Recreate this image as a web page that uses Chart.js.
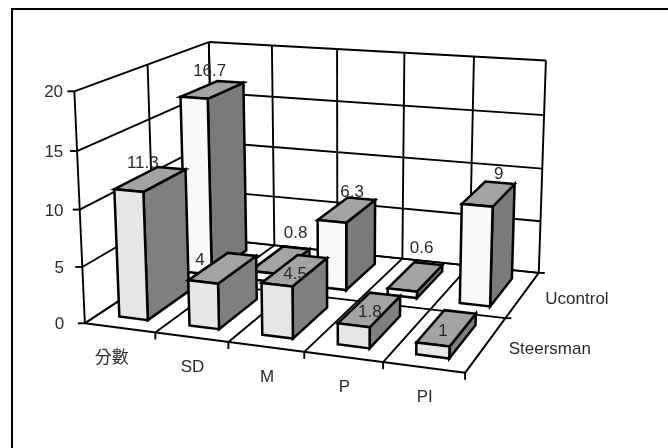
<!DOCTYPE html>
<html>
<head>
<meta charset="utf-8">
<style>
  html, body { margin: 0; padding: 0; background: #fff; }
  canvas { display: block; }
</style>
<script src="https://cdn.jsdelivr.net/npm/chart.js@4"></script>
</head>
<body>
<canvas id="chart" width="668" height="448"></canvas>
<script>
const categories = ['分數', 'SD', 'M', 'P', 'PI'];
const seriesNames = ['Steersman', 'Ucontrol'];
const steersman = [11.3, 4, 4.5, 1.8, 1];
const ucontrol = [16.7, 0.8, 6.3, 0.6, 9];

// Corners of the 3D box as seen in the picture: [u, v, w] -> [px, py]
// u = 0..5 along categories, v = 0..2 along series, w = 0..1 up the value axis
const calibration = [
    [0, 0, 0, 85, 323], [5, 0, 0, 465, 373], [5, 2, 0, 539, 273], [0, 2, 0, 213, 239],
    [0, 0, 1, 74, 91], [0, 2, 1, 209, 42], [5, 2, 1, 546, 61],
    [0, 0, 0.5, 80, 210], [5, 2, 0.5, 542, 168]
];

// Least squares fit of a projective camera, so the box keeps its perspective
function fitCamera(points) {
    const n = 11;
    const A = Array.from({ length: n }, () => new Array(n + 1).fill(0));
    const addRow = (row, rhs) => {
        for (let i = 0; i < n; i++) {
            for (let j = 0; j < n; j++) A[i][j] += row[i] * row[j];
            A[i][n] += row[i] * rhs;
        }
    };
    points.forEach(([u, v, w, px, py]) => {
        const x = px / 500, y = py / 500;
        addRow([u, v, w, 1, 0, 0, 0, 0, -x * u, -x * v, -x * w], x);
        addRow([0, 0, 0, 0, u, v, w, 1, -y * u, -y * v, -y * w], y);
    });
    for (let c = 0; c < n; c++) {
        let best = c;
        for (let r = c + 1; r < n; r++) if (Math.abs(A[r][c]) > Math.abs(A[best][c])) best = r;
        [A[c], A[best]] = [A[best], A[c]];
        for (let r = 0; r < n; r++) {
            if (r === c) continue;
            const f = A[r][c] / A[c][c];
            for (let k = c; k <= n; k++) A[r][k] -= f * A[c][k];
        }
    }
    return A.map((row, i) => row[n] / row[i]);
}

const cam = fitCamera(calibration);

function project(u, v, w) {
    const d = cam[8] * u + cam[9] * v + cam[10] * w + 1;
    return [
        500 * (cam[0] * u + cam[1] * v + cam[2] * w + cam[3]) / d,
        500 * (cam[4] * u + cam[5] * v + cam[6] * w + cam[7]) / d
    ];
}

const faceColors = {
    Steersman: { front: '#e6e6e6', top: '#a3a3a3', side: '#7f7f7f' },
    Ucontrol: { front: '#f8f8f8', top: '#a3a3a3', side: '#7a7a7a' }
};

// hand placed labels, the original chart had them dragged around
const labelShift = {
    Steersman: [[-8, -16], [-23, -7], [0, 4], [0, 3], [-4, 4]],
    Ucontrol: [[-3, -18], [15, -26], [5, -18], [6, -28], [10, -19]]
};
const categoryShift = [-8, 1, 1, 1, 1];

const barHalfU = 0.205;
const barHalfV = 0.31;

const box3d = {
    id: 'box3d',
    afterDatasetsDraw(chart) {
        const { ctx, scales, chartArea: area } = chart;
        const { x, y, depth } = scales;

        const uOf = i => (x.getPixelForValue(i) - area.left) / area.width * categories.length;
        const vOf = i => (area.bottom - depth.getPixelForValue(i)) / area.height * seriesNames.length;
        const wOf = val => (area.bottom - y.getPixelForValue(val)) / area.height;

        const line = (a, b) => {
            ctx.beginPath();
            ctx.moveTo(a[0], a[1]);
            ctx.lineTo(b[0], b[1]);
            ctx.stroke();
        };
        const face = (pts, fill) => {
            ctx.beginPath();
            pts.forEach((p, i) => i ? ctx.lineTo(p[0], p[1]) : ctx.moveTo(p[0], p[1]));
            ctx.closePath();
            ctx.fillStyle = fill;
            ctx.fill();
            ctx.stroke();
        };

        const nU = categories.length;
        const nV = seriesNames.length;

        ctx.save();
        ctx.strokeStyle = '#000';
        ctx.lineJoin = 'miter';

        // frame: only the top and left edges are inside the picture
        ctx.lineWidth = 2;
        line([11, 9], [668, 9]);
        line([12, 8], [12, 448]);

        // walls and floor
        ctx.lineWidth = 1.9;
        y.ticks.forEach(t => {
            const w = wOf(t.value);
            line(project(0, 0, w), project(0, nV, w));
            line(project(0, nV, w), project(nU, nV, w));
            const a = project(0, 0, w);
            line(a, [a[0] - 7, a[1]]);
        });
        for (let u = 0; u <= nU; u++) {
            line(project(u, nV, 0), project(u, nV, 1));
            line(project(u, 0, 0), project(u, nV, 0));
            const a = project(u, 0, 0);
            if (u > 0) line(a, [a[0], a[1] + 7]);
        }
        for (let v = 0; v <= nV; v++) {
            line(project(0, v, 0), project(nU, v, 0));
            const a = project(nU, v, 0);
            if (v > 0) line(a, [a[0] + 6, a[1]]);
            line(project(0, v, 0), project(0, v, 1));
        }

        // bars, back row first so the front row covers it
        ctx.lineWidth = 2.5;
        for (let s = nV - 1; s >= 0; s--) {
            const meta = chart.getDatasetMeta(s);
            const colors = faceColors[seriesNames[s]];
            const vc = vOf(s);
            meta.data.forEach((bar, i) => {
                const val = chart.data.datasets[s].data[i];
                const uc = uOf(i);
                const w = wOf(val);
                const u0 = uc - barHalfU, u1 = uc + barHalfU;
                const v0 = vc - barHalfV, v1 = vc + barHalfV;
                face([project(u1, v0, 0), project(u1, v1, 0), project(u1, v1, w), project(u1, v0, w)], colors.side);
                face([project(u0, v0, w), project(u1, v0, w), project(u1, v1, w), project(u0, v1, w)], colors.top);
                face([project(u0, v0, 0), project(u1, v0, 0), project(u1, v0, w), project(u0, v0, w)], colors.front);
            });
        }

        // value labels go over everything
        ctx.font = '17px "Liberation Sans", "Noto Sans CJK TC"';
        ctx.textAlign = 'center';
        ctx.textBaseline = 'middle';
        ctx.fillStyle = '#2a2a2a';
        for (let s = 0; s < nV; s++) {
            chart.data.datasets[s].data.forEach((val, i) => {
                const p = project(uOf(i), vOf(s), wOf(val));
                const shift = labelShift[seriesNames[s]][i];
                ctx.fillText(String(val), p[0] + shift[0], p[1] + shift[1]);
            });
        }

        // axis labels
        ctx.textAlign = 'right';
        y.ticks.forEach(t => {
            const a = project(0, 0, wOf(t.value));
            ctx.fillText(String(t.value), a[0] - 11 - (a[0] - 74) * 0.9, a[1] + 1.5);
        });
        ctx.textAlign = 'center';
        categories.forEach((name, i) => {
            const a = project(uOf(i), 0, 0);
            ctx.fillText(name, a[0] + categoryShift[i], a[1] + 30);
        });
        ctx.textAlign = 'left';
        seriesNames.forEach((name, i) => {
            const a = project(nU, vOf(i), 0);
            ctx.fillText(name, a[0] + 22.5, a[1] + 5);
        });
        ctx.restore();
    }
};

new Chart(document.getElementById('chart'), {
    type: 'bar',
    data: {
        labels: categories,
        datasets: [
            { label: seriesNames[0], data: steersman, backgroundColor: 'transparent' },
            { label: seriesNames[1], data: ucontrol, backgroundColor: 'transparent' }
        ]
    },
    options: {
        responsive: false,
        animation: false,
        layout: { padding: 0 },
        plugins: { legend: { display: false }, tooltip: { enabled: false } },
        scales: {
            x: { display: false },
            y: { display: false, min: 0, max: 20, ticks: { stepSize: 5 } },
            depth: { type: 'category', axis: 'y', labels: seriesNames, offset: true, reverse: true, display: false }
        }
    },
    plugins: [box3d]
});
</script>
</body>
</html>
